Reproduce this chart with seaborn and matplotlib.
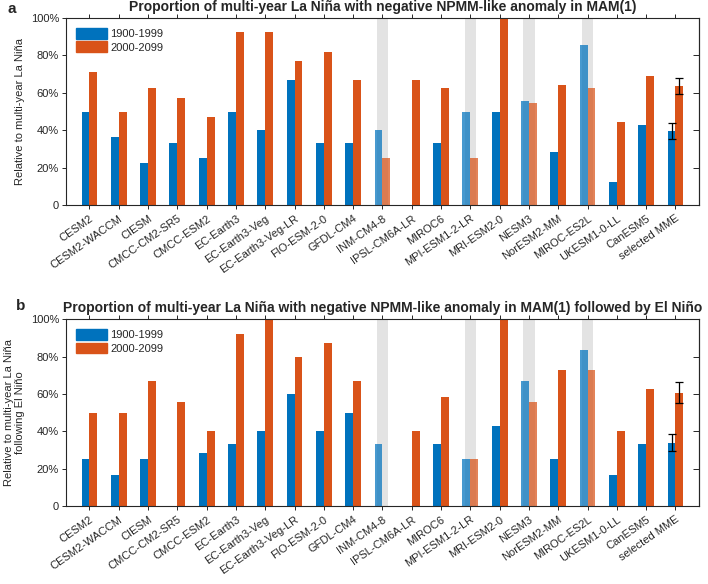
import numpy as np
import pandas as pd
import matplotlib
matplotlib.use("Agg")
import matplotlib.pyplot as plt
import seaborn as sns

# model names on the x axis
models = ["CESM2", "CESM2-WACCM", "CIESM", "CMCC-CM2-SR5", "CMCC-ESM2", "EC-Earth3",
          "EC-Earth3-Veg", "EC-Earth3-Veg-LR", "FIO-ESM-2-0", "GFDL-CM4", "INM-CM4-8",
          "IPSL-CM6A-LR", "MIROC6", "MPI-ESM1-2-LR", "MRI-ESM2-0", "NESM3", "NorESM2-MM",
          "MIROC-ES2L", "UKESM1-0-LL", "CanESM5", "selected MME"]
periods = ["1900-1999", "2000-2099"]

# models with gray shading (faded bars)
shaded = ["INM-CM4-8", "MPI-ESM1-2-LR", "NESM3", "MIROC-ES2L"]

# panel a (percent)
a_hist = [50, 36.4, 22.2, 33.3, 25, 50, 40, 66.7, 33.3, 33.3, 40,
          0, 33.3, 50, 50, 55.6, 28.6, 85.7, 12.5, 42.9, 39.6]
a_fut = [71.4, 50, 62.5, 57.1, 47.1, 92.3, 92.3, 76.9, 81.8, 66.7, 25,
         66.7, 62.5, 25, 100, 54.5, 64.3, 62.5, 44.4, 69.2, 63.6]
a_err = [4.3, 4.4]

# panel b (percent)
b_hist = [25, 16.7, 25, 0, 28.6, 33.3, 40, 60, 40, 50, 33.3,
          0, 33.3, 25, 42.9, 66.7, 25, 83.3, 16.7, 33.3, 33.8]
b_fut = [50, 50, 66.7, 55.6, 40, 92.3, 100, 80, 87.5, 66.7, 0,
         40, 58.3, 25, 100, 55.6, 72.7, 72.7, 40, 62.5, 60.7]
b_err = [4.5, 5.7]

titles = ["Proportion of multi-year La Niña with negative NPMM-like anomaly in MAM(1)",
          "Proportion of multi-year La Niña with negative NPMM-like anomaly in MAM(1) followed by El Niño"]
ylabels = ["Relative to multi-year La Niña",
           "Relative to multi-year La Niña\nfollowing El Niño"]
panel_tags = ["a", "b"]

sns.set_style("ticks")
plt.rcParams['font.family'] = ['Liberation Sans', 'DejaVu Sans']

blue = "#0072BD"
orange = "#D95319"

fig = plt.figure(figsize=(7.08, 5.84), dpi=100)
ax_a = fig.add_axes([0.0932, 0.649, 0.894, 0.320])
ax_b = fig.add_axes([0.0932, 0.1336, 0.894, 0.3197])

panels = [(ax_a, a_hist, a_fut, a_err), (ax_b, b_hist, b_fut, b_err)]
tag_pos = [(0.011, 0.997), (0.022, 0.488)]
label_pads = [4, 4]

for i, (ax, hist, fut, err) in enumerate(panels):
    df = pd.DataFrame({
        "model": models * 2,
        "period": [periods[0]] * len(models) + [periods[1]] * len(models),
        "value": hist + fut,
    })
    sns.barplot(data=df, x="model", y="value", hue="period", order=models,
                hue_order=periods, palette=[blue, orange], width=0.54, gap=0,
                saturation=1, ax=ax, legend=False)

    # gray bands behind the selected models
    for m in shaded:
        ax.bar(models.index(m), 100, width=0.38, color="#E3E3E3", zorder=0.5,
               linewidth=0)
    for cont in ax.containers:
        for m, patch in zip(models, cont.patches):
            patch.set_linewidth(0)
            if m in shaded:
                patch.set_alpha(0.72)

    # error bars for multi-model mean
    mme = len(models) - 1
    ax.errorbar([mme - 0.135, mme + 0.135], [hist[-1], fut[-1]], yerr=err,
                fmt="none", ecolor="black", elinewidth=0.9, capsize=3,
                capthick=0.9, zorder=3)

    ax.set_xlim(-0.8, len(models) - 0.2)
    ax.set_ylim(0, 100)
    ax.set_yticks([0, 20, 40, 60, 80, 100])
    ax.set_yticklabels(["0", "20%", "40%", "60%", "80%", "100%"], fontsize=8)
    ax.set_xticks(range(len(models)))
    ax.set_xticklabels(models, rotation=35, ha="right", rotation_mode="anchor",
                       fontsize=8)
    ax.tick_params(axis="x", top=True, direction="out", length=3, width=0.7, pad=3)
    ax.tick_params(axis="y", direction="out", length=3, width=0.7, pad=2)
    for sp in ax.spines.values():
        sp.set_visible(True)
        sp.set_linewidth(0.8)
    # right axis with inward ticks
    sec = ax.secondary_yaxis("right")
    sec.set_yticks([0, 20, 40, 60, 80, 100])
    sec.tick_params(direction="in", length=4, width=0.7, labelright=False)
    sec.spines["right"].set_linewidth(0.8)

    ax.set_xlabel("")
    ax.set_ylabel(ylabels[i], fontsize=8, linespacing=1.1, labelpad=label_pads[i])
    ax.set_title(titles[i], fontsize=10, fontweight="bold", pad=5)
    fig.text(tag_pos[i][0], tag_pos[i][1], panel_tags[i], fontsize=11,
             fontweight="bold", va="top", ha="left")

    handles = [plt.Rectangle((0, 0), 1, 1, color=blue),
               plt.Rectangle((0, 0), 1, 1, color=orange)]
    ax.legend(handles, periods, loc="upper left", frameon=False, fontsize=8,
              handlelength=2.8, handleheight=1.1, handletextpad=0.3,
              labelspacing=0.2, borderaxespad=0.5)

fig.savefig("out.png", dpi=100)
